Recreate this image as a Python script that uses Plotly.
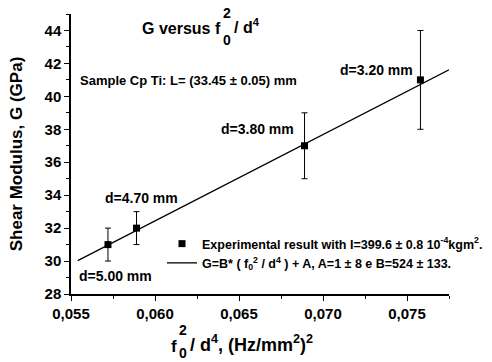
import plotly.graph_objects as go

# ---- data ----
f2_d4 = [0.0572, 0.0589, 0.0689, 0.0758]   # f0^2/d^4 (Hz/mm^2)^2
G_vals = [31, 32, 37, 41]                   # GPa
G_err = [1, 1, 2, 3]
d_labels = ["d=5.00 mm", "d=4.70 mm", "d=3.80 mm", "d=3.20 mm"]
fit_B = 524
fit_A = 1
fit_x_range = [0.0554, 0.0775]
x_ticks = [0.055, 0.060, 0.065, 0.070, 0.075]
y_ticks = [28, 30, 32, 34, 36, 38, 40, 42, 44]

fit_y = [fit_B * x + fit_A for x in fit_x_range]

W, H = 492, 362
ML, MR, MT, MB = 71, 43, 14, 68
PW, PH = W - ML - MR, H - MT - MB
FONT = "Liberation Sans, Arial, sans-serif"


def px(xp):
    return (xp - ML) / PW


def py(yp):
    return (H - MB - yp) / PH


fig = go.Figure()
fig.add_trace(go.Scatter(
    x=f2_d4, y=G_vals, mode="markers",
    marker=dict(symbol="square", size=7, color="black"),
    error_y=dict(type="data", array=G_err, color="black", thickness=1, width=3),
    name="Experimental result with I=399.6 ± 0.8 10<sup>-4</sup>kgm<sup>2</sup>.",
))
fig.add_trace(go.Scatter(
    x=fit_x_range, y=fit_y, mode="lines",
    line=dict(color="black", width=1.3),
    name="G=B* ( f<sub>0</sub><sup>2</sup> / d<sup>4</sup> ) + A, A=1 ± 8 e B=524 ± 133.",
))

ann = []


def add(text, xp, yp, size, xanchor="center", yanchor="middle"):
    ann.append(dict(text=text, x=px(xp), y=py(yp), xref="paper", yref="paper",
                    xanchor=xanchor, yanchor=yanchor, showarrow=False,
                    font=dict(family=FONT, size=size, color="black", weight="bold")))


# title
add("G versus f", 223, 28, 16, xanchor="right")
add("2", 227, 13, 14)
add("0", 227, 40, 14)
add("/ d<sup>4</sup>", 232, 26, 16, xanchor="left")

# sample text
add("Sample Cp Ti: L= (33.45 ± 0.05) mm", 78, 80, 13, xanchor="left")

# point labels
label_pos = [(115, 276), (141, 198), (257, 129), (376, 70)]
for t, (a, b) in zip(d_labels, label_pos):
    add(t, a, b, 14)

# x axis title
add("f", 179, 346, 17, xanchor="right")
add("2", 183, 330, 14)
add("0", 183, 353, 14)
add("/ d<sup>4</sup>, (Hz/mm<sup>2</sup>)<sup>2</sup>", 188, 343, 18, xanchor="left")

fig.update_layout(
    width=W, height=H,
    margin=dict(l=ML, r=MR, t=MT, b=MB, autoexpand=False),
    paper_bgcolor="white", plot_bgcolor="white",
    separators=",.",
    font=dict(family=FONT, color="black", weight="bold"),
    annotations=ann,
    showlegend=True,
    legend=dict(x=px(162), y=py(229), xanchor="left", yanchor="top",
                bgcolor="rgba(0,0,0,0)", itemwidth=30, tracegroupgap=0,
                font=dict(family=FONT, size=12.5, color="black", weight="bold")),
    xaxis=dict(range=[0.055, 0.0775], tickvals=x_ticks, tickformat=".3f",
               showgrid=False, zeroline=False, showline=True, linecolor="black",
               linewidth=1.5, ticks="outside", ticklen=5, tickwidth=1.2,
               tickcolor="black",
               tickfont=dict(family=FONT, size=15, color="black", weight="bold"),
               minor=dict(ticks="outside", ticklen=3, tickwidth=1, tickcolor="black",
                          dtick=0.0025, tick0=0.0525)),
    yaxis=dict(range=[28, 45], tickvals=y_ticks,
               showgrid=False, zeroline=False, showline=True, linecolor="black",
               linewidth=1.5, ticks="outside", ticklen=5, tickwidth=1.2,
               tickcolor="black",
               tickfont=dict(family=FONT, size=15, color="black", weight="bold"),
               title=dict(text="Shear Modulus, G (GPa)", standoff=18,
                          font=dict(family=FONT, size=17, color="black", weight="bold")),
               minor=dict(ticks="outside", ticklen=3, tickwidth=1, tickcolor="black",
                          dtick=1, tick0=29)),
)

fig.write_html("out.html")
